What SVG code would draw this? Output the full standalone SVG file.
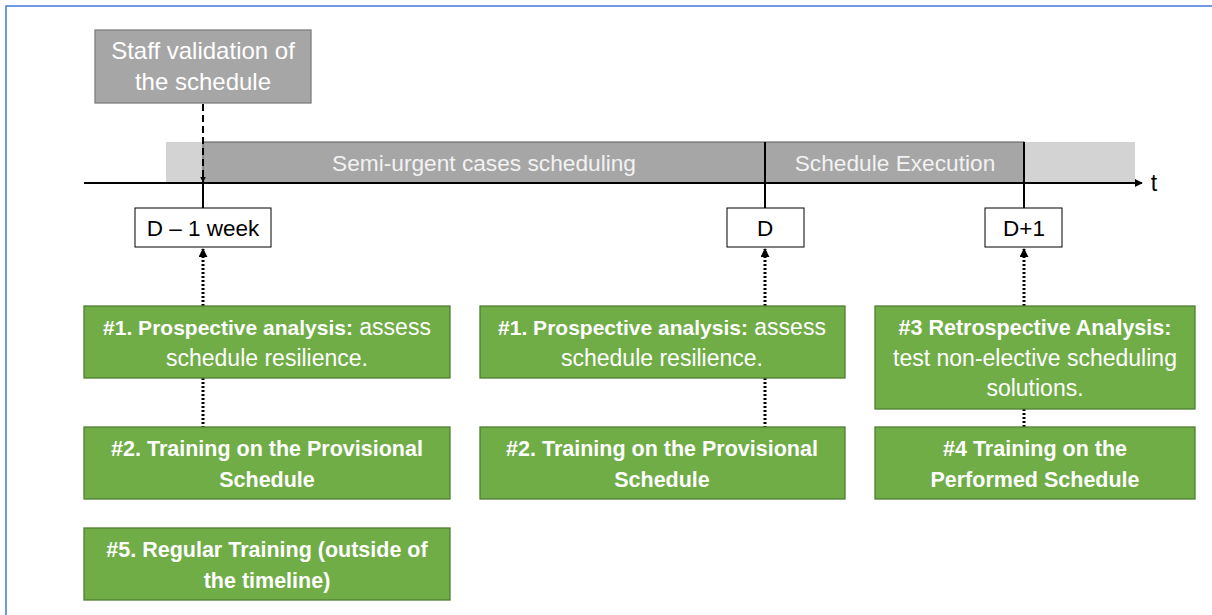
<svg xmlns="http://www.w3.org/2000/svg" width="1212" height="615" viewBox="0 0 1212 615">
<style>
text{font-family:"Liberation Sans",Arial,sans-serif;font-size:23px;text-anchor:middle}
.w{fill:#ffffff}
.b{font-weight:bold;font-size:21.5px}
.g{fill:#70ad47;stroke:#507e32;stroke-width:1.3}
.d{fill:#ffffff;stroke:#000000;stroke-width:1}
.k{fill:#000000}
.sol{stroke:#000;stroke-width:2;fill:none}
.dot{stroke:#000;stroke-width:3;stroke-dasharray:2 2;fill:none}
.dash{stroke:#000;stroke-width:2;stroke-dasharray:7 4;fill:none}
</style>
<defs>
<marker id="ah" viewBox="0 0 10 10" refX="9" refY="5" markerWidth="4" markerHeight="4" orient="auto-start-reverse"><path d="M0,0 L10,5 L0,10 z" fill="#000"/></marker>
<marker id="ahs" viewBox="0 0 10 10" refX="9" refY="5" markerWidth="3" markerHeight="3" orient="auto-start-reverse"><path d="M0,0 L10,5 L0,10 z" fill="#000"/></marker>
</defs>
<rect x="0" y="0" width="1212" height="615" fill="#ffffff"/>
<path d="M6,615 V6 H1212" fill="none" stroke="#3c78d8" stroke-width="1.5"/>

<g id="band">
<rect x="166" y="142" width="969" height="41" fill="#d3d3d3"/>
<rect x="203" y="142" width="821" height="41" fill="#a6a6a6" stroke="#595959" stroke-width="1"/>
<line x1="765" y1="142" x2="765" y2="183" stroke="#595959" stroke-width="1"/>
<text x="484" y="171" style="fill:#f2f2f2;font-size:22.7px">Semi-urgent cases scheduling</text>
<text x="895" y="171" style="fill:#f2f2f2;font-size:22.7px">Schedule Execution</text>
</g>

<g id="connectors">
<line x1="84" y1="183" x2="1142" y2="183" class="sol" marker-end="url(#ah)"/>
<line x1="203" y1="104" x2="203" y2="182" class="dash" marker-end="url(#ahs)"/>
<line x1="203" y1="183" x2="203" y2="208" class="sol"/>
<line x1="765" y1="142" x2="765" y2="208" class="sol"/>
<line x1="1024" y1="142" x2="1024" y2="208" class="sol"/>
<line x1="203" y1="306" x2="203" y2="249" class="dot" marker-end="url(#ahs)"/>
<line x1="765" y1="306" x2="765" y2="249" class="dot" marker-end="url(#ahs)"/>
<line x1="1024" y1="306" x2="1024" y2="249" class="dot" marker-end="url(#ahs)"/>
<line x1="203" y1="378" x2="203" y2="427" class="dot"/>
<line x1="765" y1="378" x2="765" y2="427" class="dot"/>
<line x1="1024" y1="409" x2="1024" y2="427" class="dot"/>
</g>
<text x="1154" y="191" class="k" style="font-size:23px">t</text>

<g id="staff">
<rect x="95" y="30" width="216" height="73" fill="#a6a6a6" stroke="#7f7f7f" stroke-width="1.3"/>
<text x="203" y="59" class="w" style="font-size:24px">Staff validation of</text>
<text x="203" y="90" class="w" style="font-size:24px">the schedule</text>
</g>

<g id="d1w"><rect x="135" y="208" width="136" height="39" class="d"/><text x="203" y="236" class="k" style="font-size:22.5px">D – 1 week</text></g>
<g id="d"><rect x="727" y="208" width="77" height="39" class="d"/><text x="765" y="236" class="k" style="font-size:22.5px">D</text></g>
<g id="dp1"><rect x="985" y="208" width="77" height="39" class="d"/><text x="1024" y="236" class="k" style="font-size:22.5px">D+1</text></g>

<g id="p1a"><rect x="84" y="306" width="366" height="72" class="g"/>
<text x="267" y="335" class="w"><tspan class="b" style="font-size:21px">#1. Prospective analysis:</tspan> assess</text>
<text x="267" y="366" class="w">schedule resilience.</text></g>
<g id="t2a"><rect x="84" y="427" width="366" height="72" class="g"/>
<text x="267" y="456" class="w b">#2. Training on the Provisional</text>
<text x="267" y="487" class="w b">Schedule</text></g>
<g id="t5"><rect x="84" y="528" width="366" height="72" class="g"/>
<text x="267" y="557" class="w b">#5. Regular Training (outside of</text>
<text x="267" y="588" class="w b">the timeline)</text></g>

<g id="p1b"><rect x="480" y="306" width="365" height="72" class="g"/>
<text x="662" y="335" class="w"><tspan class="b" style="font-size:21px">#1. Prospective analysis:</tspan> assess</text>
<text x="662" y="366" class="w">schedule resilience.</text></g>
<g id="t2b"><rect x="480" y="427" width="365" height="72" class="g"/>
<text x="662" y="456" class="w b">#2. Training on the Provisional</text>
<text x="662" y="487" class="w b">Schedule</text></g>

<g id="r3"><rect x="875" y="306" width="320" height="103" class="g"/>
<text x="1035" y="335" class="w b">#3 Retrospective Analysis:</text>
<text x="1035" y="366" class="w">test non-elective scheduling</text>
<text x="1035" y="396" class="w">solutions.</text></g>
<g id="t4"><rect x="875" y="427" width="320" height="72" class="g"/>
<text x="1035" y="456" class="w b">#4 Training on the</text>
<text x="1035" y="487" class="w b">Performed Schedule</text></g>
</svg>
